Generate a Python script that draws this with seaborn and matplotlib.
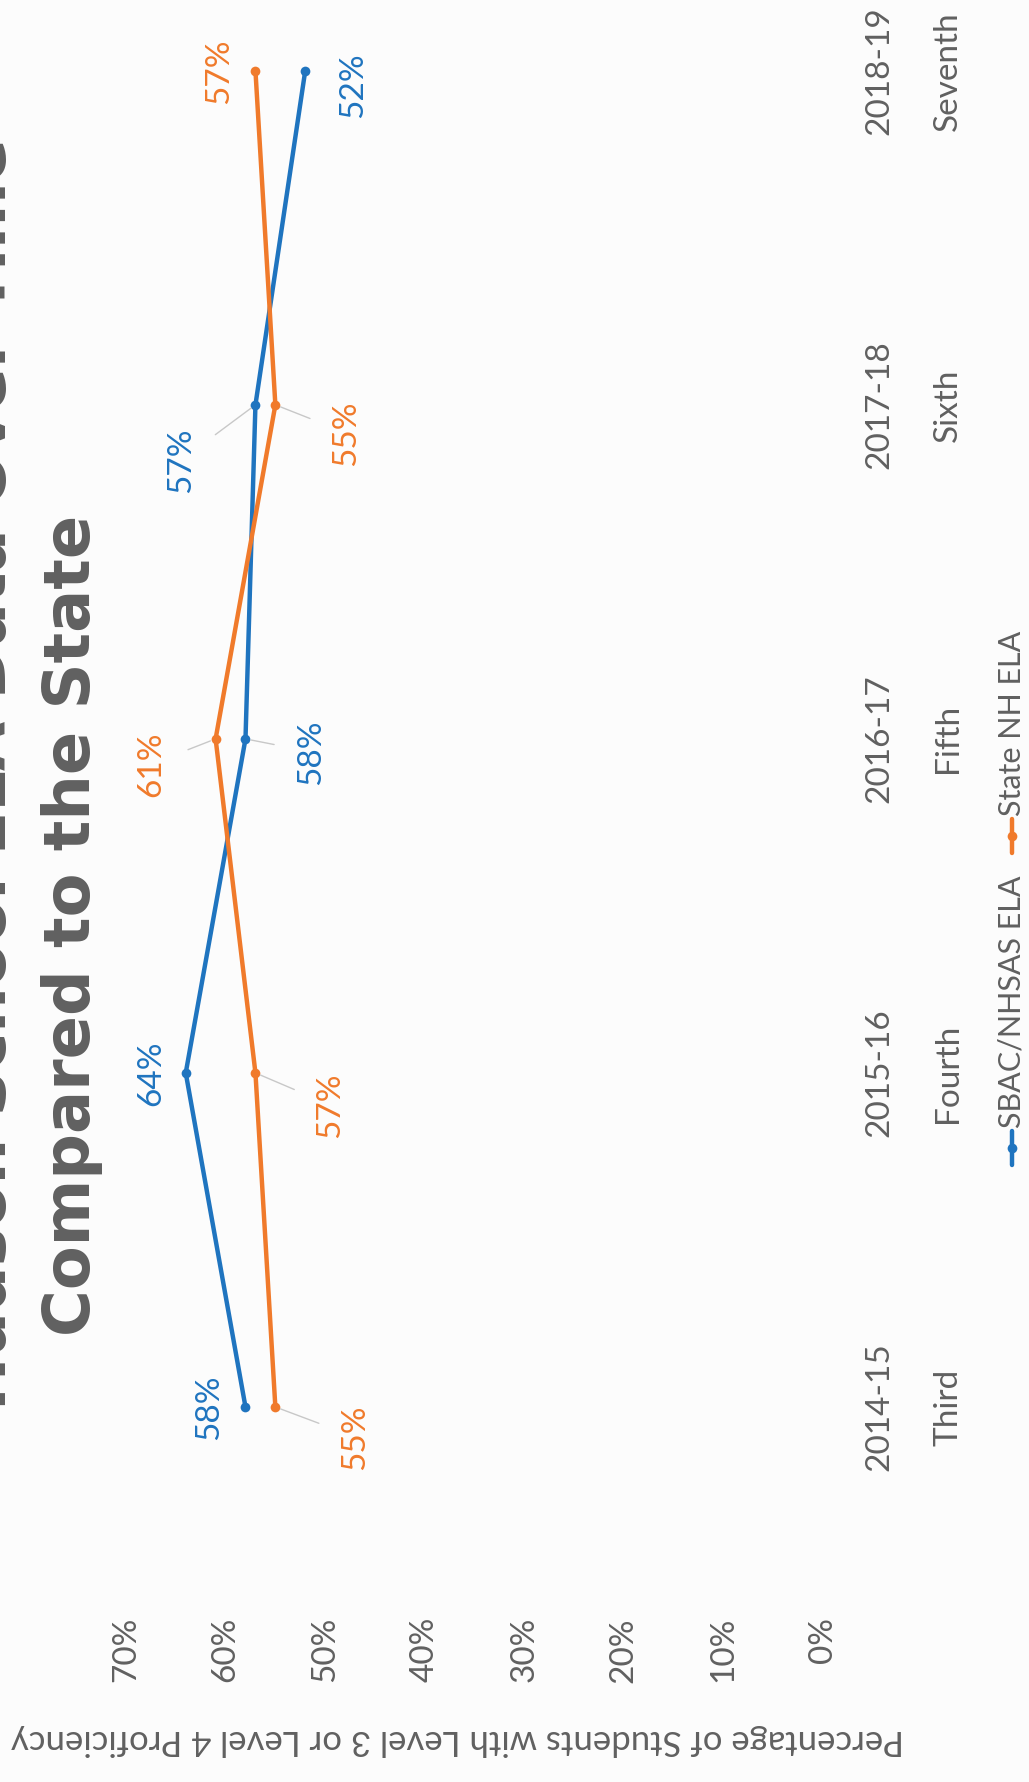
import matplotlib
matplotlib.use("Agg")
import matplotlib.pyplot as plt
from matplotlib.lines import Line2D
import seaborn as sns
import pandas as pd

# ---- data ----
years = ["2014-15", "2015-16", "2016-17", "2017-18", "2018-19"]
grades = ["Third", "Fourth", "Fifth", "Sixth", "Seventh"]
sbac = [0.58, 0.64, 0.58, 0.57, 0.52]
state = [0.55, 0.57, 0.61, 0.55, 0.57]
series_names = ["SBAC/NHSAS ELA", "State NH ELA"]
value_ticks = [0.0, 0.1, 0.2, 0.3, 0.4, 0.5, 0.6, 0.7]
y_title = "Percentage of Students with Level 3 or Level 4 Proficiency"

BLUE = "#1f74bf"
ORANGE = "#f07a2b"
GREY = "#606060"
BG = "#fcfcfc"

W, H = 1029, 1782
DPI = 100

sns.set_theme(style="white")
plt.rcParams["font.family"] = ["Lato", "DejaVu Sans"]

fig = plt.figure(figsize=(W / DPI, H / DPI), dpi=DPI, facecolor=BG)


def fx(px):
    return px / W


def fy(py_top):
    return 1 - py_top / H


# plot area: value axis runs right-to-left, categories run bottom-to-top
ax = fig.add_axes([fx(126), 208 / H, fx(823) - fx(126), 1570 / H])
ax.set_facecolor(BG)

df = pd.DataFrame({
    "value": sbac + state,
    "pos": list(range(len(years))) * 2,
    "series": [series_names[0]] * len(sbac) + [series_names[1]] * len(state),
})

sns.lineplot(data=df, x="value", y="pos", hue="series", orient="y",
             palette=[BLUE, ORANGE], marker="o", markersize=7,
             markeredgewidth=0, linewidth=3.2, sort=False, legend=False, ax=ax)

ax.set_xlim(0.70, 0.0)
ax.set_ylim(-0.5, 4.2)
for s in ax.spines.values():
    s.set_visible(False)
ax.grid(False)
ax.set_xlabel("")
ax.set_ylabel("")

ax.set_xticks(value_ticks)
ax.set_xticklabels([f"{int(round(t * 100))}%" for t in value_ticks],
                   rotation=90, fontsize=24, color=GREY)
ax.tick_params(axis="x", length=0, pad=31)

ax.yaxis.tick_right()
ax.set_yticks(range(len(years)))
ax.set_yticklabels([f"{y}\n{g}" for y, g in zip(years, grades)],
                   rotation=90, fontsize=24, color=GREY, va="center",
                   linespacing=2.6)
for t in ax.get_yticklabels():
    t.set_multialignment("center")
ax.tick_params(axis="y", length=0, pad=30)

# data labels (offsets in pixels: dx to the right, dy upward)
label_specs = [
    (sbac, BLUE, [(-36, 0), (-34, 0), (66, -13), (-74, -55), (48, -14)],
     [False, False, True, True, False]),
    (state, ORANGE, [(80, -30), (75, -32), (-64, -25), (71, -28), (-36, 0)],
     [True, True, True, True, False]),
]
for vals, col, offs, leaders in label_specs:
    for i, (v, (dx, dy), lead) in enumerate(zip(vals, offs, leaders)):
        arrow = dict(arrowstyle="-", color="#c8c8c8", lw=1.0,
                     shrinkA=14, shrinkB=4) if lead else None
        ax.annotate(f"{int(round(v * 100))}%", xy=(v, i), xytext=(dx, dy),
                    textcoords="offset pixels", rotation=90,
                    ha="center", va="center", fontsize=24, color=col,
                    arrowprops=arrow)

# titles
title_font = ["DejaVu Sans"]
fig.text(fx(6), fy(1410), "Hudson School ELA Data Over Time",
         rotation=90, rotation_mode="anchor", ha="left", va="baseline",
         fontsize=46, fontweight="bold", color=GREY, family=title_font)
fig.text(fx(72), fy(925), "Compared to the State", rotation=90,
         ha="center", va="center", fontsize=46, fontweight="bold",
         color=GREY, family=title_font)

# value-axis title
fig.text(fx(458), fy(1740), y_title, rotation=180, ha="center", va="center",
         fontsize=25, color=GREY)

# legend
legend_items = [(series_names[0], BLUE, 1148), (series_names[1], ORANGE, 836)]
for name, col, ymid in legend_items:
    fig.add_artist(Line2D([fx(1012), fx(1012)], [fy(ymid + 17), fy(ymid - 17)],
                          transform=fig.transFigure, color=col, lw=3.2))
    fig.add_artist(Line2D([fx(1012)], [fy(ymid)], transform=fig.transFigure,
                          color=col, marker="o", markersize=7,
                          markeredgewidth=0))
    fig.text(fx(1012), fy(ymid - 20), name, rotation=90,
             rotation_mode="anchor", ha="left", va="center",
             fontsize=22, color=GREY)

fig.savefig("out.png", dpi=DPI, facecolor=BG)
